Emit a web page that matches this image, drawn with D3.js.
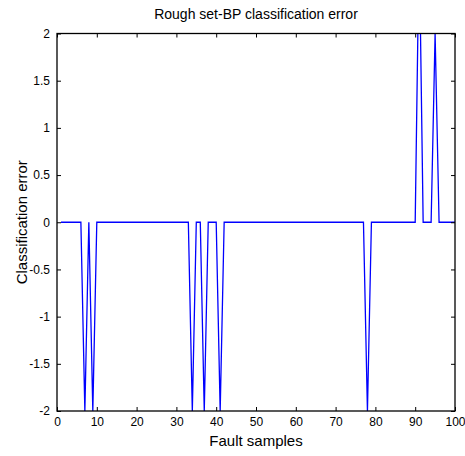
<!DOCTYPE html>
<html><head><meta charset="utf-8">
<script src="https://cdn.jsdelivr.net/npm/d3@7"></script>
<style>body{margin:0;background:#fff}svg{display:block}text{font-family:"Liberation Sans",Arial,sans-serif;fill:#000}</style>
</head><body>
<svg id="c" width="465" height="456"></svg>
<script>
const title = "Rough set-BP classification error";
const xLabel = "Fault samples";
const yLabel = "Classification error";
const sampleIds = d3.range(1, 101);
const errorPoints = [[7,-2],[9,-2],[34,-2],[37,-2],[41,-2],[78,-2],[91,3],[95,2]];
const xTicks = [0,10,20,30,40,50,60,70,80,90,100];
const yTicks = [-2,-1.5,-1,-0.5,0,0.5,1,1.5,2];
const yTickLabels = ["-2","-1.5","-1","-0.5","0","0.5","1","1.5","2"];

const errMap = new Map(errorPoints);
const values = sampleIds.map(i => errMap.has(i) ? errMap.get(i) : 0);

const L = 57, R = 455, T = 33.5, B = 411;
const svg = d3.select("#c");
const x = d3.scaleLinear().domain([0,100]).range([L,R]);
const y = d3.scaleLinear().domain([-2,2]).range([B,T]);

svg.append("defs").append("clipPath").attr("id","clip")
  .append("rect").attr("x",L).attr("y",T).attr("width",R-L).attr("height",B-T);

const line = d3.line().x((d,i)=>x(sampleIds[i])).y(d=>y(d));
svg.append("path").datum(values).attr("clip-path","url(#clip)")
  .attr("fill","none").attr("stroke","#0000ff").attr("stroke-width",1.3)
  .attr("d", line);

const tk = 4;
const gB = svg.append("g").attr("transform",`translate(0,${B})`)
  .call(d3.axisBottom(x).tickValues(xTicks).tickSize(-tk).tickPadding(6).tickFormat(d3.format("d")));
const gT = svg.append("g").attr("transform",`translate(0,${T})`)
  .call(d3.axisTop(x).tickValues(xTicks).tickSize(-tk).tickFormat(""));
const gL = svg.append("g").attr("transform",`translate(${L},0)`)
  .call(d3.axisLeft(y).tickValues(yTicks).tickSize(-tk).tickPadding(7).tickFormat((d,i)=>yTickLabels[i]));
const gR = svg.append("g").attr("transform",`translate(${R},0)`)
  .call(d3.axisRight(y).tickValues(yTicks).tickSize(-tk).tickFormat(""));
[gB,gT,gL,gR].forEach(g=>{
  g.select(".domain").remove();
  g.selectAll(".tick line").attr("stroke","#000").attr("stroke-width",1);
  g.selectAll(".tick text").attr("font-size",12).attr("font-family","'Liberation Sans',Arial,sans-serif").attr("fill","#000");
});
gB.selectAll(".tick text").attr("dy","0.71em");

svg.append("rect").attr("x",L).attr("y",T).attr("width",R-L).attr("height",B-T)
  .attr("fill","none").attr("stroke","#000").attr("stroke-width",1.3);

svg.append("text").attr("x",(L+R)/2).attr("y",19).attr("text-anchor","middle")
  .attr("font-size",14).text(title);
svg.append("text").attr("x",(L+R)/2).attr("y",446).attr("text-anchor","middle")
  .attr("font-size",15).text(xLabel);
svg.append("text").attr("transform",`translate(27,${(T+B)/2}) rotate(-90)`).attr("text-anchor","middle")
  .attr("font-size",15).text(yLabel);
</script>
</body></html>
